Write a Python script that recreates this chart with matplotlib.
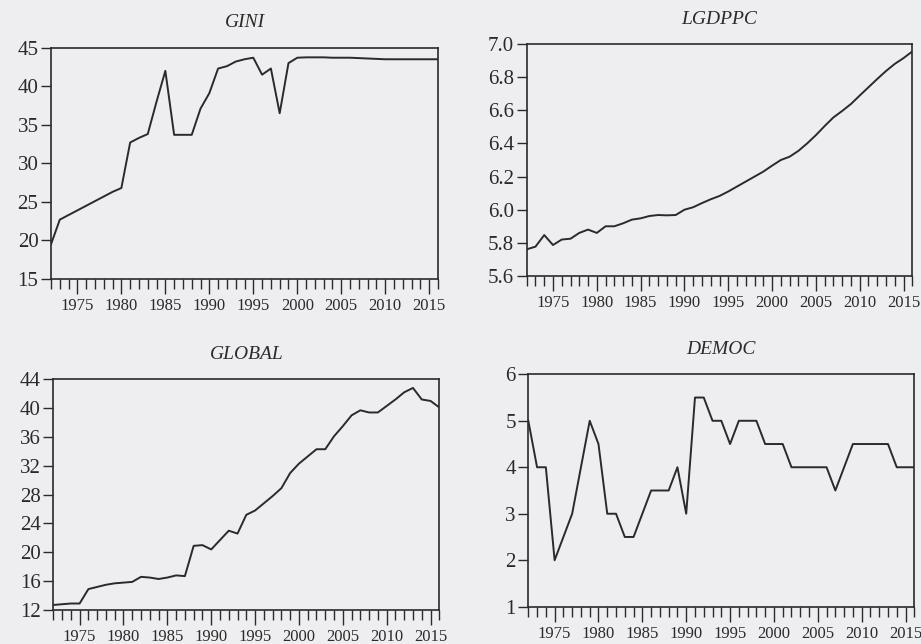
import numpy as np
import matplotlib
matplotlib.use('Agg')
from matplotlib import pyplot as plt
from matplotlib.ticker import MultipleLocator

# annual observations 1972-2016
years = list(range(1972, 2017))

gini = [19.5, 22.7, 23.3, 23.9, 24.5, 25.1, 25.7, 26.3, 26.8, 32.7,
        33.3, 33.8, 38.0, 42.0, 33.7, 33.7, 33.7, 37.1, 39.1, 42.3,
        42.6, 43.2, 43.5, 43.7, 41.5, 42.3, 36.5, 43.0, 43.7, 43.75,
        43.75, 43.75, 43.7, 43.7, 43.7, 43.65, 43.6, 43.55, 43.5, 43.5,
        43.5, 43.5, 43.5, 43.5, 43.5]

lgdppc = [5.761, 5.777, 5.847, 5.787, 5.82, 5.825, 5.86, 5.88, 5.86, 5.90,
          5.90, 5.918, 5.94, 5.948, 5.962, 5.968, 5.966, 5.968, 6.0, 6.015,
          6.04, 6.063, 6.083, 6.11, 6.14, 6.17, 6.2, 6.23, 6.266, 6.3,
          6.32, 6.355, 6.40, 6.45, 6.505, 6.557, 6.596, 6.638, 6.689, 6.739,
          6.789, 6.837, 6.88, 6.915, 6.955]

glob = [12.7, 12.8, 12.9, 12.9, 14.9, 15.2, 15.5, 15.7, 15.8, 15.9,
        16.6, 16.5, 16.3, 16.5, 16.8, 16.7, 20.9, 21.0, 20.4, 21.7,
        23.0, 22.6, 25.2, 25.8, 26.8, 27.8, 28.9, 31.0, 32.3, 33.3,
        34.3, 34.3, 36.1, 37.5, 39.0, 39.7, 39.4, 39.4, 40.3, 41.2,
        42.2, 42.8, 41.2, 41.0, 40.1]

democ = [5.0, 4.0, 4.0, 2.0, 2.5, 3.0, 4.0, 5.0, 4.5, 3.0,
         3.0, 2.5, 2.5, 3.0, 3.5, 3.5, 3.5, 4.0, 3.0, 5.5,
         5.5, 5.0, 5.0, 4.5, 5.0, 5.0, 5.0, 4.5, 4.5, 4.5,
         4.0, 4.0, 4.0, 4.0, 4.0, 3.5, 4.0, 4.5, 4.5, 4.5,
         4.5, 4.5, 4.0, 4.0, 4.0]

#=========   figura
W, H = 921, 644
bg = '#eeeef0'
ink = '#2a2a2a'
plt.rcParams['font.family'] = ['Liberation Serif', 'DejaVu Serif']

fig = plt.figure(figsize=(W / 100, H / 100), dpi=100, facecolor=bg)

# (left, top, right, bottom) em pixels
paineis = [
    ('GINI', gini, (51, 47.7, 438, 279), (15, 45), 5, '%d'),
    ('LGDPPC', lgdppc, (526.7, 44, 912.3, 276), (5.6, 7.0), 0.2, '%.1f'),
    ('GLOBAL', glob, (53.3, 379.3, 439.3, 610), (12, 44), 4, '%d'),
    ('DEMOC', democ, (528.3, 374.3, 914.3, 606.7), (1, 6), 1, '%d'),
]

for nome, serie, (l, t, r, b), ylim, passo, fmt in paineis:
    ax = fig.add_axes([l / W, 1 - b / H, (r - l) / W, (b - t) / H])
    ax.set_facecolor(bg)
    ax.plot(years, serie, color=ink, linewidth=1.4)
    ax.set_xlim(1972, 2016)
    ax.set_ylim(*ylim)
    ax.yaxis.set_major_locator(MultipleLocator(passo))
    ax.yaxis.set_major_formatter(matplotlib.ticker.FormatStrFormatter(fmt))
    ax.set_xticks(range(1975, 2016, 5))
    ax.xaxis.set_minor_locator(MultipleLocator(1))
    for s in ax.spines.values():
        s.set_color(ink)
        s.set_linewidth(1.2)
    ax.tick_params(axis='y', direction='out', length=7, width=1, color=ink,
                   labelsize=15, labelcolor=ink, pad=2)
    ax.tick_params(axis='x', which='major', direction='out', length=11, width=1,
                   color=ink, labelsize=12, labelcolor=ink, pad=3)
    ax.tick_params(axis='x', which='minor', direction='out', length=7, width=1,
                   color=ink)
    ax.text(0.5, 1 + 25 / (b - t), nome, transform=ax.transAxes, ha='center',
            va='center', fontsize=14, style='italic', color=ink)

plt.savefig('out.png', dpi=100, facecolor=bg)
